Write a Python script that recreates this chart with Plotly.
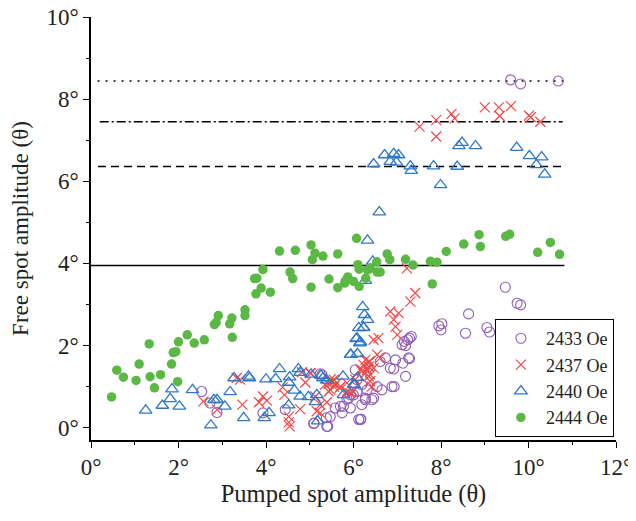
import plotly.graph_objects as go

# ---------------- data ----------------
x_2433 = [2.53, 2.72, 2.88, 3.93, 4.44, 5.09, 5.10, 5.24, 5.28, 5.38, 5.39, 5.41, 5.47, 5.58, 5.70,
          5.74, 5.77, 5.85, 5.89, 5.93, 5.93, 6.00, 6.04, 6.08, 6.08, 6.12, 6.16, 6.17, 6.19, 6.19,
          6.27, 6.27, 6.31, 6.42, 6.46, 6.54, 6.61, 6.65, 6.73, 6.84, 6.88, 6.92, 6.93, 6.96, 7.11,
          7.13, 7.16, 7.19, 7.19, 7.24, 7.26, 7.28, 7.28, 7.32, 7.95, 8.00, 8.02, 8.56, 8.63, 9.05,
          9.11, 9.47, 9.74, 9.82, 9.59, 9.82, 10.68]
y_2433 = [0.88, 0.60, 0.37, 0.36, 0.44, 0.10, 0.11, 1.31, 1.29, 0.24, 0.03, 0.03, 0.27, 0.48, 0.52,
          0.36, 0.52, 0.70, 0.72, 0.80, 0.48, 0.80, 1.41, 1.17, 0.88, 0.20, 0.20, 0.21, 1.05, 0.56,
          0.68, 0.72, 0.92, 0.68, 0.72, 1.00, 1.61, 0.92, 1.70, 1.45, 1.00, 1.43, 1.00, 1.65, 2.02,
          1.57, 2.10, 1.25, 2.00, 2.14, 1.70, 1.68, 2.18, 2.22, 2.48, 2.38, 2.53, 2.30, 2.77, 2.44,
          2.33, 3.42, 3.03, 2.99, 8.47, 8.37, 8.44]

x_2437 = [2.57, 2.88, 3.33, 3.41, 3.46, 3.84, 3.93, 4.02, 4.38, 4.42, 4.52, 4.52, 4.54, 4.78, 4.82,
          4.90, 5.01, 5.03, 5.13, 5.16, 5.24, 5.24, 5.35, 5.39, 5.43, 5.43, 5.47, 5.48, 5.51, 5.55,
          5.55, 5.58, 5.62, 5.68, 5.70, 5.85, 5.85, 5.93, 5.99, 6.04, 6.16, 6.19, 6.23, 6.27, 6.27,
          6.31, 6.35, 6.35, 6.35, 6.37, 6.38, 6.38, 6.42, 6.46, 6.46, 6.54, 6.57, 6.61, 6.84, 6.92,
          6.96, 7.00, 7.03, 7.22, 7.30, 7.41, 7.51, 7.89, 7.89, 8.24, 8.31, 9.00, 9.32, 9.34, 9.60,
          10.01, 10.05, 10.27]
y_2437 = [0.64, 0.44, 1.21, 1.17, 0.56, 0.62, 0.76, 0.66, 0.98, 0.80, 0.13, 0.27, 0.03, 0.45, 1.35,
          1.10, 1.33, 1.33, 0.76, 0.40, 0.56, 0.36, 1.05, 0.62, 0.88, 1.07, 0.92, 1.18, 1.10, 1.17,
          1.00, 1.05, 1.09, 0.97, 1.00, 0.88, 1.09, 0.84, 0.88, 1.17, 1.41, 1.37, 1.53, 1.33, 1.65,
          1.41, 1.49, 1.61, 1.25, 1.61, 1.29, 1.13, 1.00, 1.45, 2.14, 1.78, 2.18, 1.70, 2.83, 2.63,
          2.46, 2.26, 2.79, 3.88, 3.07, 3.28, 7.33, 7.49, 7.09, 7.64, 7.53, 7.80, 7.80, 7.59, 7.83,
          7.60, 7.56, 7.45]

x_2440 = [1.25, 1.63, 1.81, 1.85, 2.02, 2.32, 2.74, 2.81, 2.88, 3.06, 3.18, 3.27, 3.49, 3.60, 3.62,
          3.96, 4.00, 4.07, 4.22, 4.31, 4.52, 4.54, 4.52, 4.65, 4.74, 4.78, 4.78, 4.97, 5.03, 5.13,
          5.16, 5.18, 5.26, 5.30, 5.39, 5.76, 5.77, 5.93, 5.94, 6.00, 6.02, 6.06, 6.08, 6.09, 6.09,
          6.12, 6.14, 6.16, 6.21, 6.23, 6.23, 6.25, 6.27, 6.32, 6.32, 6.44, 6.59, 6.46, 6.71, 6.84,
          6.92, 6.98, 7.03, 7.30, 7.32, 7.83, 7.99, 8.37, 8.41, 8.48, 8.79, 9.73, 10.02, 10.18, 10.30,
          10.37]
y_2440 = [0.42, 0.54, 0.70, 0.94, 0.52, 0.92, 0.06, 0.68, 0.68, 0.52, 0.87, 1.21, 0.24, 1.25, 1.21,
          0.24, 1.18, 0.36, 1.19, 1.43, 1.10, 1.23, 0.55, 0.91, 1.43, 0.76, 1.34, 0.75, 1.30, 0.63,
          0.80, 0.16, 1.27, 1.21, 1.15, 1.25, 0.80, 1.78, 1.78, 1.05, 1.04, 2.16, 2.18, 1.80, 1.22,
          2.43, 2.06, 2.08, 2.94, 2.43, 2.44, 2.75, 3.58, 2.63, 4.56, 4.05, 5.25, 6.42, 6.64, 6.48,
          6.67, 6.46, 6.64, 6.37, 6.26, 6.37, 5.91, 6.36, 6.86, 6.94, 6.86, 6.82, 6.62, 6.40, 6.59,
          6.17]

x_2444 = [0.47, 0.59, 0.74, 1.03, 1.10, 1.33, 1.35, 1.45, 1.59, 1.84, 1.88, 1.94, 1.98, 2.00, 2.20,
          2.36, 2.59, 2.82, 2.86, 2.91, 3.17, 3.22, 3.23, 3.52, 3.52, 3.74, 3.79, 3.77, 3.89, 3.93,
          4.10, 4.31, 4.55, 4.61, 4.67, 5.03, 5.03, 5.06, 5.12, 5.30, 5.44, 5.64, 5.64, 5.80, 5.81,
          5.87, 6.00, 6.07, 6.10, 6.13, 6.13, 6.28, 6.32, 6.38, 6.53, 6.54, 6.61, 6.77, 6.83, 7.19,
          7.36, 7.76, 7.80, 7.91, 8.12, 8.52, 8.87, 8.90, 9.48, 9.57, 10.21, 10.50, 10.71]
y_2444 = [0.75, 1.40, 1.23, 1.15, 1.55, 2.04, 1.24, 0.97, 1.29, 1.55, 1.83, 1.85, 1.12, 2.09, 2.26,
          2.06, 2.14, 2.51, 2.56, 2.73, 2.53, 2.67, 2.20, 2.87, 2.73, 3.63, 3.64, 3.26, 3.40, 3.85,
          3.30, 4.30, 3.79, 3.63, 4.32, 4.45, 3.42, 4.09, 4.25, 4.18, 3.62, 4.23, 3.41, 3.52, 3.57,
          3.67, 3.56, 4.61, 3.97, 3.86, 3.44, 3.64, 3.84, 3.88, 4.04, 3.79, 3.79, 4.23, 4.09, 4.10,
          3.96, 4.05, 3.50, 4.03, 4.29, 4.47, 4.70, 4.41, 4.66, 4.71, 4.27, 4.51, 4.22]

ref_levels = [8.44, 7.45, 6.36, 3.95]
ref_x_start = [0.15, 0.2, 0.16, 0.0]
ref_x_end = [10.8, 10.78, 10.8, 10.82]
ref_dashes = ["2px,6px", "9px,3px,2px,3px", "8px,5px", "solid"]

x_ticks = [0, 2, 4, 6, 8, 10, 12]
y_ticks = [0, 2, 4, 6, 8, 10]
x_tick_text = [f"{v}°" for v in x_ticks]
y_tick_text = [f"{v}°" for v in y_ticks]

FONT = "Liberation Serif"

fig = go.Figure()

for lvl, xs, xe, dsh in zip(ref_levels, ref_x_start, ref_x_end, ref_dashes):
    fig.add_trace(go.Scatter(x=[xs, xe], y=[lvl, lvl], mode="lines",
                             line=dict(color="black", width=1.6, dash=dsh),
                             showlegend=False, hoverinfo="skip"))

fig.add_trace(go.Scatter(x=x_2433, y=y_2433, mode="markers", name="2433 Oe",
                         marker=dict(symbol="circle-open", size=10, color="#8f5db7",
                                     line=dict(width=1.1, color="#8f5db7"))))
fig.add_trace(go.Scatter(x=x_2437, y=y_2437, mode="markers", name="2437 Oe",
                         marker=dict(symbol="x-thin-open", size=10, color="#f04848",
                                     line=dict(width=1.2, color="#f04848"))))
fig.add_trace(go.Scatter(x=x_2440, y=y_2440, mode="markers", name="2440 Oe",
                         marker=dict(symbol="triangle-up-open", size=11, color="#2f78c8",
                                     line=dict(width=1.3, color="#2f78c8"))))
fig.add_trace(go.Scatter(x=x_2444, y=y_2444, mode="markers", name="2444 Oe",
                         marker=dict(symbol="circle", size=9.5, color="#5cb845",
                                     line=dict(width=0))))

axis_common = dict(showline=True, linecolor="black", linewidth=1.5, showgrid=False,
                   zeroline=False, ticks="outside", ticklen=6, tickwidth=1.3,
                   tickcolor="black", mirror=False, automargin=False,
                   ticklabeloverflow="allow",
                   tickfont=dict(family=FONT, size=23, color="#222"))

fig.update_xaxes(range=[0, 12], tickmode="array", tickvals=x_ticks, ticktext=x_tick_text,
                 minor=dict(tickmode="array", tickvals=[1, 3, 5, 7, 9, 11], ticks="outside",
                            ticklen=3, tickwidth=1.2, tickcolor="black"),
                 title=dict(text="Pumped spot amplitude (θ)", font=dict(family=FONT, size=24.5, color="#222"),
                            standoff=0),
                 **axis_common)
fig.update_yaxes(range=[-0.3, 10], tickmode="array", tickvals=y_ticks, ticktext=y_tick_text,
                 minor=dict(tickmode="array", tickvals=[1, 3, 5, 7, 9], ticks="outside",
                            ticklen=3, tickwidth=1.2, tickcolor="black"),
                 title=dict(text="Free spot amplitude (θ)", font=dict(family=FONT, size=23, color="#222"),
                            standoff=21),
                 **axis_common)

# page body adds an 8px offset; margins compensate so the plot area sits at
# page x 91..616, y 17..440 as in the reference
fig.update_layout(
    width=636, height=521,
    margin=dict(l=83, r=28, t=9, b=89),
    plot_bgcolor="white", paper_bgcolor="white",
    legend=dict(x=0.996, y=0.007, xanchor="right", yanchor="bottom",
                bordercolor="black", borderwidth=1, bgcolor="white",
                font=dict(family=FONT, size=18, color="#222"),
                itemwidth=40, tracegroupgap=0),
    showlegend=True,
)

fig.write_html("out.html")
